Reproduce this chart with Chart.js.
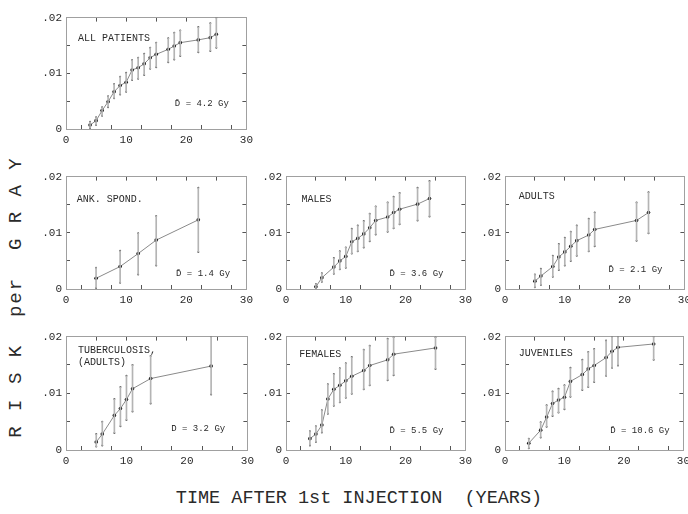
<!DOCTYPE html>
<html>
<head>
<meta charset="utf-8">
<script src="https://cdn.jsdelivr.net/npm/chart.js@4.4.1/dist/chart.umd.min.js"></script>
<style>
  body { margin: 0; width: 688px; height: 514px; background: #fff; position: relative; overflow: hidden;
         font-family: "Liberation Mono", "DejaVu Sans Mono", monospace; color: #2a2a2a; }
  canvas { position: absolute; }
  .ytitle { position: absolute; left: 16px; top: 297px; transform: translate(-50%, -50%) rotate(-90deg);
            font-size: 19px; white-space: pre; letter-spacing: 2px; }
  .xtitle { position: absolute; left: 359px; top: 498px; transform: translate(-50%, -50%);
            font-size: 18.5px; white-space: pre; }
</style>
</head>
<body>
<div class="ytitle">R I S K  per  G R A Y</div>
<div class="xtitle">TIME AFTER 1st INJECTION  (YEARS)</div>

<script>
// tick labels shared by all panels
const xTickValues = [0, 10, 20, 30];
const xTickText = ["0", "10", "20", "30"];
const yTickValues = [0, 0.01, 0.02];
const yTickText = ["0", ".01", ".02"];

// ALL PATIENTS
const allYears = [4, 5, 6, 7, 8, 9, 10, 11, 12, 13, 14, 15, 17, 18, 19, 22, 24, 25];
const allRisk = [.0007, .0015, .0033, .0049, .0067, .0078, .0084, .0106, .011, .0117, .0128, .0134, .0143, .0149, .0155, .016, .0164, .017];
const allLow = [.0002, .0007, .0024, .0039, .0055, .0062, .0067, .0088, .009, .0097, .0108, .0111, .012, .0125, .0131, .0138, .014, .0146];
const allHigh = [.0013, .0021, .0039, .0059, .0081, .0094, .0101, .0124, .0128, .0135, .0146, .0155, .0163, .0173, .0177, .0183, .019, .02];

// ANK. SPOND.
const ankYears = [5, 9, 12, 15, 22];
const ankRisk = [.0019, .004, .0063, .0087, .0123];
const ankLow = [.0002, .0011, .0026, .0042, .0066];
const ankHigh = [.0038, .0068, .0099, .013, .018];

// MALES
const maleYears = [5, 6, 8, 9, 10, 11, 12, 13, 14, 15, 17, 18, 19, 22, 24];
const maleRisk = [.0004, .002, .0039, .005, .0058, .0084, .009, .0098, .0109, .0122, .0128, .0136, .0142, .0151, .0161];
const maleLow = [0, .0013, .0027, .0035, .0038, .0063, .0067, .0074, .0085, .0097, .0102, .0108, .0115, .0122, .0129];
const maleHigh = [.0009, .0028, .0055, .0067, .0074, .0107, .0113, .0121, .0134, .0147, .0154, .0164, .0171, .018, .0192];

// ADULTS
const adultYears = [5, 6, 8, 9, 10, 11, 12, 14, 15, 22, 24];
const adultRisk = [.0014, .0023, .004, .0057, .0066, .0076, .0086, .0096, .0106, .0122, .0136];
const adultLow = [.0003, .0007, .0022, .0034, .0042, .005, .0059, .0067, .0076, .0086, .0099];
const adultHigh = [.0026, .0036, .0059, .008, .0091, .0102, .0113, .0125, .0136, .0154, .0172];

// TUBERCULOSIS (ADULTS)
const tbYears = [5, 6, 8, 9, 10, 11, 14, 24];
const tbRisk = [.0014, .0028, .0061, .0073, .0089, .0108, .0126, .0148];
const tbLow = [.0006, .0008, .003, .0042, .0053, .0068, .0082, .0098];
const tbHigh = [.0028, .005, .009, .0111, .0131, .015, .0166, .02];

// FEMALES
const femYears = [4, 5, 6, 7, 8, 9, 10, 11, 13, 14, 17, 18, 25];
const femRisk = [.002, .0028, .0044, .009, .0107, .0114, .0122, .013, .014, .0149, .0159, .0169, .018];
const femLow = [.0008, .0014, .0031, .0064, .0078, .0084, .0092, .0099, .0107, .0114, .0123, .0132, .0143];
const femHigh = [.0033, .0042, .007, .0116, .0134, .0144, .0153, .0164, .0177, .0184, .0196, .0199, .0199];

// JUVENILES
const juvYears = [4, 6, 7, 8, 9, 10, 11, 13, 14, 15, 17, 18, 19, 25];
const juvRisk = [.0012, .0035, .0058, .0082, .0088, .0093, .0121, .0133, .0143, .0149, .0163, .0174, .0181, .0187];
const juvLow = [.0003, .0022, .0041, .006, .0066, .0072, .0094, .0106, .0111, .012, .0131, .0145, .0149, .0159];
const juvHigh = [.002, .0049, .0079, .0103, .0108, .0114, .0145, .0159, .0173, .0178, .0193, .02, .02, .02];

const panels = [
  { years: allYears, risk: allRisk, low: allLow, high: allHigh, left: 66, top: 11, w: 181, h: 118,
    notes: [["ALL PATIENTS", 2, .0162, 10], ["D\u0304 = 4.2 Gy", 18.1, .0046, 9]] },
  { years: ankYears, risk: ankRisk, low: ankLow, high: ankHigh, left: 66, top: 170, w: 181, h: 119,
    notes: [["ANK. SPOND.", 1.8, .016, 10], ["D\u0304 = 1.4 Gy", 18.3, .0028, 9]] },
  { years: maleYears, risk: maleRisk, low: maleLow, high: maleHigh, left: 286, top: 170, w: 180, h: 119,
    notes: [["MALES", 2.6, .016, 10], ["D\u0304 = 3.6 Gy", 17.3, .0028, 9]] },
  { years: adultYears, risk: adultRisk, low: adultLow, high: adultHigh, left: 505, top: 170, w: 180, h: 119,
    notes: [["ADULTS", 2.3, .0165, 10], ["D\u0304 = 2.1 Gy", 17.3, .0034, 9]] },
  { years: tbYears, risk: tbRisk, low: tbLow, high: tbHigh, left: 66, top: 330, w: 182, h: 120,
    notes: [["TUBERCULOSIS,", 2, .0176, 10], ["(ADULTS)", 2, .0154, 10], ["D\u0304 = 3.2 Gy", 17.4, .0037, 9]] },
  { years: femYears, risk: femRisk, low: femLow, high: femHigh, left: 286, top: 330, w: 180, h: 120,
    notes: [["FEMALES", 2.2, .0168, 10], ["D\u0304 = 5.5 Gy", 17.3, .0034, 9]] },
  { years: juvYears, risk: juvRisk, low: juvLow, high: juvHigh, left: 505, top: 330, w: 179, h: 120,
    notes: [["JUVENILES", 2.3, .017, 10], ["D\u0304 = 10.6 Gy", 17.7, .0035, 9]] }
];

const FONT = '"Liberation Mono", "DejaVu Sans Mono", monospace';

// writes the panel name and mean dose inside the plot box
const panelText = {
  id: "panelText",
  afterDatasetsDraw(chart, args, opts) {
    const ctx = chart.ctx;
    const x = chart.scales.x, y = chart.scales.y;
    ctx.save();
    ctx.fillStyle = "#2a2a2a";
    ctx.textBaseline = "middle";
    ctx.textAlign = "left";
    opts.notes.forEach(n => {
      ctx.font = n[3] + "px " + FONT;
      ctx.fillText(n[0], x.getPixelForValue(n[1]), y.getPixelForValue(n[2]));
    });
    ctx.restore();
  }
};

function pickLabel(value, values, texts) {
  for (let k = 0; k < values.length; k++) {
    if (Math.abs(value - values[k]) < 1e-9) return texts[k];
  }
  return "";
}

const border = { display: true, color: "#a0a0a0", dash: [1, 2], width: 1 };
const grid = { drawOnChartArea: false, drawTicks: true, tickLength: -4, color: "#555", lineWidth: 1 };

function makePanel(p) {
  const padL = 36, padT = 8, padR = 14, padB = 22;
  const canvas = document.createElement("canvas");
  canvas.width = p.w + padL + padR;
  canvas.height = p.h + padT + padB;
  canvas.style.left = (p.left - padL) + "px";
  canvas.style.top = (p.top - padT) + "px";
  document.body.appendChild(canvas);

  const ends = [];
  p.years.forEach((yr, i) => {
    ends.push({ x: yr, y: p.low[i] });
    ends.push({ x: yr, y: p.high[i] });
  });

  new Chart(canvas.getContext("2d"), {
    type: "scatter",
    data: {
      datasets: [
        {
          type: "bar",
          data: p.years.map((yr, i) => ({ x: yr, y: [p.low[i], p.high[i]] })),
          backgroundColor: "#b4b4b4",
          barThickness: 1,
          borderWidth: 0
        },
        {
          type: "scatter",
          data: ends,
          pointRadius: 1,
          pointBackgroundColor: "#555",
          pointBorderWidth: 0
        },
        {
          type: "line",
          data: p.years.map((yr, i) => ({ x: yr, y: p.risk[i] })),
          borderColor: "#8a8a8a",
          borderWidth: 1,
          pointRadius: 1.8,
          pointBackgroundColor: "#111",
          pointBorderWidth: 0,
          tension: 0
        }
      ]
    },
    options: {
      responsive: false,
      animation: false,
      layout: { padding: { left: 0, top: padT, right: padR, bottom: 0 } },
      plugins: {
        legend: { display: false },
        tooltip: { enabled: false },
        panelText: { notes: p.notes }
      },
      scales: {
        x: {
          type: "linear", position: "bottom", min: 0, max: 30, offset: false,
          grid: grid, border: border,
          ticks: { stepSize: 5, padding: 8, autoSkip: false, maxRotation: 0, color: "#2a2a2a",
                   font: { family: FONT, size: 11 },
                   callback: v => pickLabel(v, xTickValues, xTickText) },
          afterFit: s => { s.height = padB; }
        },
        y: {
          type: "linear", position: "left", min: 0, max: 0.02,
          grid: grid, border: border,
          ticks: { stepSize: 0.005, padding: 8, autoSkip: false, color: "#2a2a2a",
                   font: { family: FONT, size: 11 },
                   callback: v => pickLabel(v, yTickValues, yTickText) },
          afterFit: s => { s.width = padL; }
        },
        x2: {
          type: "linear", position: "top", min: 0, max: 30,
          grid: grid, border: border,
          ticks: { stepSize: 5, display: false },
          afterFit: s => { s.height = 0; }
        },
        y2: {
          type: "linear", position: "right", min: 0, max: 0.02,
          grid: grid, border: border,
          ticks: { stepSize: 0.005, display: false },
          afterFit: s => { s.width = 0; }
        }
      }
    },
    plugins: [panelText]
  });
}

panels.forEach(makePanel);
</script>
</body>
</html>
